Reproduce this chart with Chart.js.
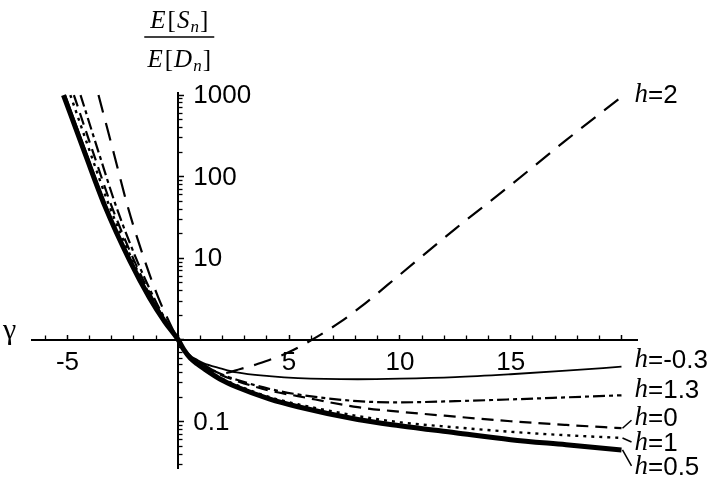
<!DOCTYPE html>
<html><head><meta charset="utf-8">
<script src="https://cdn.jsdelivr.net/npm/chart.js@4"></script>
<style>html,body{margin:0;padding:0;background:#fff;}canvas{display:block;}</style>
</head><body>
<canvas id="c" width="720" height="481"></canvas>
<script>
// ---- data ----
const seriesLabels = ['h=0.5', 'h=1', 'h=0', 'h=1.3', 'h=-0.3', 'h=2'];

const gammaH05  = [-5.18, -4.2, -3.3, -2.2, -1.3, -0.6, 0, 0.25, 0.54, 0.85, 1.13, 1.9, 2.64, 4.1, 5.4, 8.1, 10, 12.5, 15, 17.5, 20];
const valuesH05 = [1000, 190, 43, 9.5, 3.3, 1.66, 1, 0.76, 0.6, 0.51, 0.45, 0.33, 0.265, 0.19, 0.152, 0.106, 0.089, 0.073, 0.06, 0.052, 0.045];

const gammaH1  = [-4.87, -3.95, -3.1, -2.07, -1.22, -0.56, 0, 0.25, 0.54, 0.85, 1.13, 1.9, 2.64, 4.1, 5.4, 8.1, 10, 12.5, 15, 17.5, 20];
const valuesH1 = [1000, 190, 43, 9.5, 3.3, 1.66, 1, 0.765, 0.61, 0.52, 0.46, 0.345, 0.28, 0.2, 0.163, 0.117, 0.098, 0.085, 0.075, 0.068, 0.063];

const gammaH0  = [-4.71, -3.82, -3.0, -2.0, -1.18, -0.55, 0, 0.25, 0.54, 0.85, 1.13, 1.9, 2.64, 4.1, 5.4, 8.1, 10, 12.5, 15, 17.5, 20];
const valuesH0 = [1000, 190, 43, 9.5, 3.3, 1.66, 1, 0.77, 0.62, 0.535, 0.48, 0.375, 0.315, 0.24, 0.205, 0.15, 0.132, 0.115, 0.101, 0.091, 0.083];

const gammaH13  = [-4.41, -3.57, -2.8, -1.87, -1.1, -0.51, 0, 0.25, 0.54, 0.85, 1.13, 1.9, 2.64, 4.1, 5.4, 8.1, 10, 12.5, 15, 17.5, 20];
const valuesH13 = [1000, 190, 43, 9.5, 3.3, 1.66, 1, 0.77, 0.62, 0.54, 0.49, 0.385, 0.325, 0.252, 0.215, 0.178, 0.172, 0.178, 0.187, 0.198, 0.21];

const gammaHm03  = [-5.1, -4.13, -3.25, -2.17, -1.28, -0.59, 0, 0.25, 0.54, 0.85, 1.13, 1.9, 2.64, 4.1, 5.4, 8.1, 10, 12.5, 15, 17.5, 20];
const valuesHm03 = [1000, 190, 43, 9.5, 3.3, 1.66, 1, 0.77, 0.64, 0.57, 0.52, 0.45, 0.4, 0.36, 0.34, 0.33, 0.335, 0.35, 0.38, 0.42, 0.47];

const gammaH2  = [-3.6, -2.9, -2.28, -1.52, -0.9, -0.41, 0, 0.25, 0.54, 1.13, 2.0, 2.8, 3.6, 5.0, 6.1, 7.3, 8.2, 10, 12.5, 15, 17.5, 20];
const valuesH2 = [1000, 190, 43, 9.5, 3.3, 1.66, 1, 0.77, 0.64, 0.5, 0.39, 0.44, 0.51, 0.71, 1.03, 1.65, 2.5, 6.3, 23, 79, 280, 950];

const xTickValues = [-5, 0, 5, 10, 15, 20];
const xTickLabels = ['-5', '', '5', '10', '15', ''];
const xMinorTicks = [-6, -4, -3, -2, -1, 1, 2, 3, 4, 6, 7, 8, 9, 11, 12, 13, 14, 16, 17, 18, 19];
const yTickValues = [1000, 100, 10, 1, 0.1];
const yTickLabels = ['1000', '100', '10', '', '0.1'];
const yMinorTicks = [0.03, 0.04, 0.05, 0.06, 0.07, 0.08, 0.09,
  0.2, 0.3, 0.4, 0.5, 0.6, 0.7, 0.8, 0.9,
  2, 3, 4, 5, 6, 7, 8, 9,
  20, 30, 40, 50, 60, 70, 80, 90,
  200, 300, 400, 500, 600, 700, 800, 900];

// ---- styles ----
const seriesData = [
  [gammaH05, valuesH05], [gammaH1, valuesH1], [gammaH0, valuesH0],
  [gammaH13, valuesH13], [gammaHm03, valuesHm03], [gammaH2, valuesH2]
];
const seriesStyle = [
  { width: 5,   dash: [] },
  { width: 2.4, dash: [3, 5] },
  { width: 2.2, dash: [12, 7] },
  { width: 2.2, dash: [12, 4, 4, 4] },
  { width: 1.8, dash: [] },
  { width: 2.2, dash: [18, 11] }
];
// label offsets (pixels) relative to curve end, and whether a leader line is drawn
const labelLayout = [
  { dy: 17, leader: true },
  { dy: 5, leader: true },
  { dy: -10, leader: true },
  { dy: -5, leader: false },
  { dy: -7, leader: false },
  { dy: -2, leader: false }
];

const datasets = seriesData.map((s, i) => ({
  label: seriesLabels[i],
  data: s[0].map((g, j) => ({ x: g, y: s[1][j] })),
  borderColor: '#000',
  borderWidth: seriesStyle[i].width,
  borderDash: seriesStyle[i].dash,
  borderCapStyle: 'butt',
  pointRadius: 0,
  fill: false,
  cubicInterpolationMode: 'monotone',
  xAxisID: 'x',
  yAxisID: 'y'
}));

const tickFont = { family: 'Liberation Sans', size: 26, lineHeight: 1 };

const overlay = {
  id: 'overlay',
  afterDraw(chart) {
    const ctx = chart.ctx;
    const xs = chart.scales.x, ys = chart.scales.y;
    const x0 = xs.getPixelForValue(0);
    ctx.save();
    ctx.fillStyle = '#000';
    ctx.strokeStyle = '#000';
    // y tick labels on the right of the axis
    ctx.font = '26px "Liberation Sans"';
    ctx.textAlign = 'left';
    ctx.textBaseline = 'middle';
    yTickValues.forEach((v, i) => {
      if (yTickLabels[i]) ctx.fillText(yTickLabels[i], x0 + 15, ys.getPixelForValue(v) + 1);
    });
    // axis titles
    ctx.textBaseline = 'alphabetic';
    const drawMath = (parts, cx, baseY) => {
      let w = 0;
      parts.forEach(p => { ctx.font = p.f; p.w = ctx.measureText(p.t).width; w += p.w + (p.gap || 0); });
      let x = cx - w / 2;
      parts.forEach(p => { ctx.font = p.f; ctx.fillText(p.t, x, baseY + (p.dy || 0)); x += p.w + (p.gap || 0); });
    };
    const it = 'italic 25px "Liberation Serif"', up = '25px "Liberation Serif"', sub = 'italic 17px "Liberation Serif"';
    drawMath([{ t: 'E', f: it, gap: 2 }, { t: '[', f: up, gap: 1 }, { t: 'S', f: it, gap: 1 }, { t: 'n', f: sub, dy: 4, gap: 1 }, { t: ']', f: up }], x0 + 1, 28);
    drawMath([{ t: 'E', f: it, gap: 2 }, { t: '[', f: up, gap: 1 }, { t: 'D', f: it, gap: 1 }, { t: 'n', f: sub, dy: 4, gap: 1 }, { t: ']', f: up }], x0 + 1, 67);
    ctx.lineWidth = 1.5;
    ctx.beginPath(); ctx.moveTo(x0 - 34, 37); ctx.lineTo(x0 + 36, 37); ctx.stroke();
    ctx.font = '30px "Liberation Serif"';
    ctx.fillText('γ', 3, ys.getPixelForValue(1) - 1);
    // series labels
    const xEnd = xs.getPixelForValue(20);
    seriesData.forEach((s, i) => {
      const yEnd = ys.getPixelForValue(s[1][s[1].length - 1]);
      const lx = xEnd + 13, ly = yEnd + labelLayout[i].dy;
      if (labelLayout[i].leader) {
        ctx.lineWidth = 1.5;
        ctx.beginPath();
        ctx.moveTo(xEnd + 1, yEnd);
        ctx.lineTo(lx - 3, ly - (labelLayout[i].dy > 0 ? 1 : -2));
        ctx.stroke();
      }
      const txt = seriesLabels[i];
      ctx.textBaseline = 'middle';
      ctx.font = 'italic 27px "Liberation Serif"';
      ctx.fillText('h', lx, ly);
      const hw = ctx.measureText('h').width;
      ctx.font = '26px "Liberation Sans"';
      ctx.fillText(txt.slice(1), lx + hw, ly + 1);
    });
    ctx.restore();
  }
};

new Chart(document.getElementById('c'), {
  type: 'line',
  data: { datasets },
  options: {
    responsive: false,
    animation: false,
    devicePixelRatio: 1,
    layout: { padding: { left: 32, right: 83, top: 93, bottom: 13 } },
    plugins: { legend: { display: false }, tooltip: { enabled: false } },
    scales: {
      x: {
        type: 'linear', axis: 'x', min: -6.6, max: 20.7, position: { y: 1 },
        afterBuildTicks: s => { s.ticks = xTickValues.map(v => ({ value: v })); },
        ticks: {
          autoSkip: false, maxRotation: 0, color: '#000', font: tickFont, padding: 16,
          callback: v => { const i = xTickValues.indexOf(v); return i >= 0 ? xTickLabels[i] : ''; }
        },
        grid: { drawOnChartArea: false, drawTicks: true, tickLength: -6, tickColor: '#000', tickWidth: 1.5 },
        border: { display: true, color: '#000', width: 2 }
      },
      xMinor: {
        type: 'linear', axis: 'x', min: -6.6, max: 20.7, position: { y: 1 },
        afterBuildTicks: s => { s.ticks = xMinorTicks.map(v => ({ value: v })); },
        ticks: { display: false },
        grid: { drawOnChartArea: false, drawTicks: true, tickLength: -4.5, tickColor: '#000', tickWidth: 1.3 },
        border: { display: false }
      },
      y: {
        type: 'logarithmic', axis: 'y', min: 0.027, max: 1060, position: { x: 0 },
        afterBuildTicks: s => { s.ticks = yTickValues.map(v => ({ value: v })); },
        ticks: { display: false },
        grid: { drawOnChartArea: false, drawTicks: true, tickLength: -7, tickColor: '#000', tickWidth: 1.5 },
        border: { display: true, color: '#000', width: 2 }
      },
      yMinor: {
        type: 'logarithmic', axis: 'y', min: 0.027, max: 1060, position: { x: 0 },
        afterBuildTicks: s => { s.ticks = yMinorTicks.map(v => ({ value: v })); },
        ticks: { display: false },
        grid: { drawOnChartArea: false, drawTicks: true, tickLength: -4.5, tickColor: '#000', tickWidth: 1.3 },
        border: { display: false }
      }
    }
  },
  plugins: [overlay]
});
</script>
</body></html>
